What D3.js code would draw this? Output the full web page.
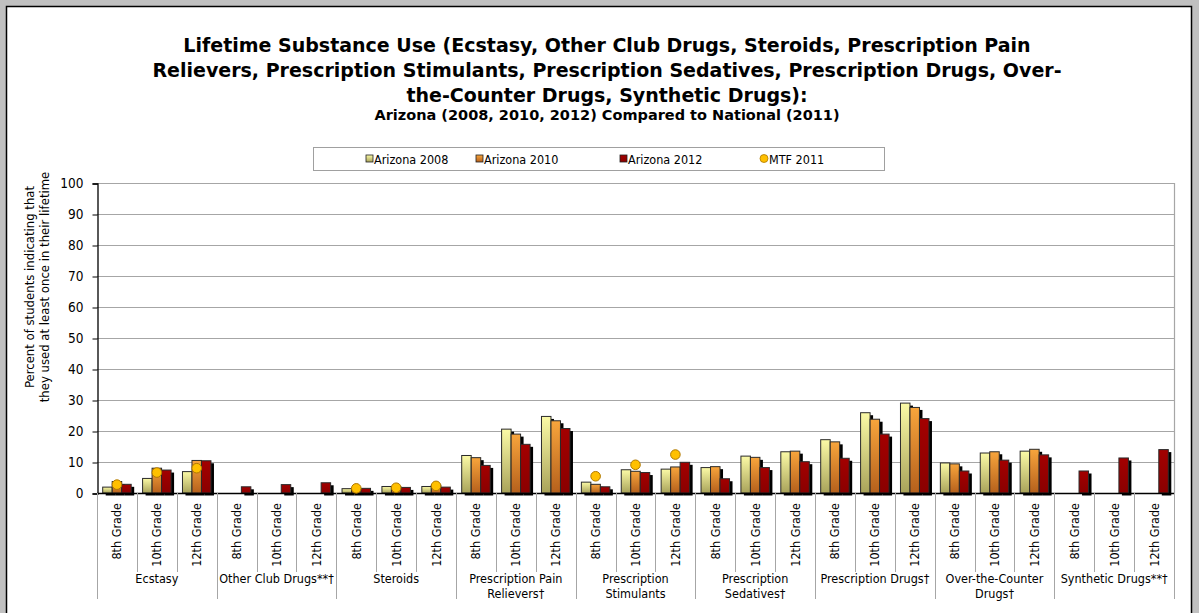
<!DOCTYPE html>
<html>
<head>
<meta charset="utf-8">
<script src="https://cdn.jsdelivr.net/npm/d3@7"></script>
<style>
  body { margin: 0; background: #c0c0c0; }
  svg { display: block; }
  text { font-family: "DejaVu Sans Condensed", "DejaVu Sans", sans-serif; font-stretch: condensed; fill: #000; }
  text.title { font-family: "DejaVu Sans", sans-serif; font-stretch: normal; font-weight: bold; }
</style>
</head>
<body>
<svg id="chart" width="1199" height="613"></svg>
<script>
// ---- data -------------------------------------------------------------
const groups = [
  "Ecstasy",
  "Other Club Drugs**†",
  "Steroids",
  "Prescription Pain\nRelievers†",
  "Prescription\nStimulants",
  "Prescription\nSedatives†",
  "Prescription Drugs†",
  "Over-the-Counter\nDrugs†",
  "Synthetic Drugs**†"
];
const grades = ["8th Grade", "10th Grade", "12th Grade"];
const seriesNames = ["Arizona 2008", "Arizona 2010", "Arizona 2012"];
const markerName = "MTF 2011";

// one value per group x grade (27 entries); null = not surveyed
const arizona2008 = [1.9, 4.7, 6.9,  null, null, null,  1.4, 2.1, 2.1,  12.1, 20.6, 24.7,
                     3.5, 7.5, 7.7,  8.2, 11.9, 13.3,  17.2, 25.9, 29.0,  9.7, 12.9, 13.5,  null, null, null];
const arizona2010 = [3.7, 8.0, 10.5,  null, null, null,  1.2, 2.0, 2.5,  11.4, 19.0, 23.3,
                     2.8, 7.0, 8.4,  8.5, 11.5, 13.5,  16.5, 23.8, 27.6,  9.4, 13.3, 14.1,  null, null, null];
const arizona2012 = [2.8, 7.4, 10.4,  2.0, 2.7, 3.3,  1.5, 1.8, 1.9,  8.9, 15.7, 20.8,
                     2.0, 6.6, 9.9,  4.6, 8.2, 10.1,  11.2, 19.0, 24.0,  7.1, 10.6, 12.3,  7.1, 11.3, 14.0];
const mtf2011     = [2.7, 6.6, 8.0,  null, null, null,  1.5, 1.7, 2.3,  null, null, null,
                     5.4, 9.1, 12.4,  null, null, null,  null, null, null,  null, null, null,  null, null, null];
const yTicks = [0, 10, 20, 30, 40, 50, 60, 70, 80, 90, 100];

const titleLines = [
  "Lifetime Substance Use (Ecstasy, Other Club Drugs, Steroids, Prescription Pain",
  "Relievers, Prescription Stimulants, Prescription Sedatives, Prescription Drugs, Over-",
  "the-Counter Drugs, Synthetic Drugs):"
];
const subtitle = "Arizona (2008, 2010, 2012) Compared to National (2011)";
const yTitleLines = ["Percent of students indicating that", "they used at least once in their lifetime"];

// ---- setup ------------------------------------------------------------
const svg = d3.select("#chart");
const W = 1199, H = 613;
const plot = { left: 97, right: 1174, top: 183, bottom: 493 };

const seriesValues = [arizona2008, arizona2010, arizona2012];
const categories = d3.range(groups.length * grades.length);

const x0 = d3.scaleBand().domain(categories).range([plot.left, plot.right]).padding(0);
const x1 = d3.scaleBand().domain(d3.range(seriesNames.length))
  .range([0, x0.bandwidth()]).paddingInner(0).paddingOuter(0.6);
const y = d3.scaleLinear().domain([0, 100]).range([plot.bottom, plot.top]);

// gradients for the bar fills
const defs = svg.append("defs");
const gradStops = [
  [["0%", "#fbfaa6"], ["100%", "#a9a35a"]],
  [["0%", "#f8a53c"], ["100%", "#b5601c"]],
  [["0%", "#a30000"], ["100%", "#8a0000"]]
];
gradStops.forEach((stops, i) => {
  const g = defs.append("linearGradient").attr("id", "g" + i)
    .attr("x1", 0).attr("y1", 0).attr("x2", 0).attr("y2", 1);
  stops.forEach(s => g.append("stop").attr("offset", s[0]).attr("stop-color", s[1]));
});

// chart panel
svg.append("rect").attr("x", 0).attr("y", 0).attr("width", W).attr("height", H).attr("fill", "#c0c0c0");
svg.append("rect").attr("x", 6.5).attr("y", 6.5).attr("width", 1185).attr("height", 640)
  .attr("fill", "#fff").attr("stroke", "#000").attr("stroke-width", 1.5);

// title
const titleG = svg.append("g").attr("text-anchor", "middle");
titleLines.forEach((t, i) => {
  titleG.append("text").attr("class", "title").attr("x", 607).attr("y", 52 + i * 25)
    .attr("font-size", 19).text(t);
});
titleG.append("text").attr("class", "title").attr("x", 607).attr("y", 120)
  .attr("font-size", 14.5).text(subtitle);

// legend
const legend = svg.append("g");
legend.append("rect").attr("x", 313.5).attr("y", 147.5).attr("width", 571).attr("height", 23)
  .attr("fill", "#fff").attr("stroke", "#a0a0a0");
const legendX = [366, 476, 620, 764];
seriesNames.forEach((name, i) => {
  legend.append("rect").attr("x", legendX[i]).attr("y", 155).attr("width", 7).attr("height", 7)
    .attr("fill", `url(#g${i})`).attr("stroke", "#222").attr("stroke-width", 0.8);
  legend.append("text").attr("x", legendX[i] + 8).attr("y", 163.5).attr("font-size", 12.5).text(name);
});
legend.append("circle").attr("cx", legendX[3]).attr("cy", 158.5).attr("r", 4)
  .attr("fill", "#ffc000").attr("stroke", "#b07800").attr("stroke-width", 0.8);
legend.append("text").attr("x", legendX[3] + 5).attr("y", 163.5).attr("font-size", 12.5).text(markerName);

// gridlines
svg.append("g").selectAll("line").data(yTicks.filter(d => d > 0)).join("line")
  .attr("x1", plot.left).attr("x2", plot.right)
  .attr("y1", d => y(d) + 0.5).attr("y2", d => y(d) + 0.5)
  .attr("stroke", "#a6a6a6").attr("stroke-width", 1.2);
svg.append("line").attr("x1", plot.right + 0.5).attr("x2", plot.right + 0.5)
  .attr("y1", plot.top).attr("y2", plot.bottom).attr("stroke", "#a6a6a6").attr("stroke-width", 1.2);

// y axis
const yAxis = svg.append("g").attr("transform", `translate(${plot.left + 0.5},0.5)`)
  .call(d3.axisLeft(y).tickValues(yTicks).tickSize(5).tickPadding(9));
yAxis.select(".domain").attr("stroke", "#000").attr("stroke-width", 1.3);
yAxis.selectAll(".tick line").attr("stroke", "#000");
yAxis.selectAll(".tick text").attr("font-size", 13.5)
  .attr("font-family", "\"DejaVu Sans Condensed\", \"DejaVu Sans\", sans-serif");

// y axis title
const yTitle = svg.append("g").attr("text-anchor", "middle");
yTitleLines.forEach((t, i) => {
  yTitle.append("text").attr("transform", `translate(${33.5 + i * 15.5},287) rotate(-90)`)
    .attr("font-size", 13).text(t);
});

// bars: each bar gets a black offset shadow drawn just before it
const barsG = svg.append("g");
categories.forEach(c => {
  seriesValues.forEach((vals, s) => {
    const v = vals[c];
    if (v == null) return;
    const bx = x0(c) + x1(s), bw = x1.bandwidth();
    barsG.append("rect").attr("x", bx + 3).attr("y", y(v) + 2.5)
      .attr("width", bw).attr("height", y(0) - y(v)).attr("fill", "#000");
    barsG.append("rect").attr("x", bx).attr("y", y(v))
      .attr("width", bw).attr("height", y(0) - y(v))
      .attr("fill", `url(#g${s})`).attr("stroke", "#2a2a2a").attr("stroke-width", 1);
  });
});

// x axis line
svg.append("line").attr("x1", plot.left).attr("x2", plot.right)
  .attr("y1", plot.bottom + 0.5).attr("y2", plot.bottom + 0.5)
  .attr("stroke", "#000").attr("stroke-width", 1.3);

// MTF markers
svg.append("g").selectAll("circle")
  .data(categories.filter(c => mtf2011[c] != null)).join("circle")
  .attr("cx", c => x0(c) + x1(1) + x1.bandwidth() / 2)
  .attr("cy", c => y(mtf2011[c]))
  .attr("r", 4.8).attr("fill", "#ffc000").attr("stroke", "#b07800").attr("stroke-width", 1);

// category axis: grade dividers and labels
const xAxisG = svg.append("g");
d3.range(categories.length + 1).forEach(i => {
  const xx = Math.round(plot.left + i * x0.step()) + 0.5;
  const isGroup = i % grades.length === 0;
  xAxisG.append("line").attr("x1", xx).attr("x2", xx)
    .attr("y1", plot.bottom).attr("y2", isGroup ? 599 : 572)
    .attr("stroke", "#a6a6a6").attr("stroke-width", 1);
});
categories.forEach(c => {
  const cx = x0(c) + x0.bandwidth() / 2;
  xAxisG.append("text").attr("transform", `translate(${cx + 4.5},503) rotate(-90)`)
    .attr("text-anchor", "end").attr("font-size", 12.5).text(grades[c % grades.length]);
});
groups.forEach((g, gi) => {
  const cx = plot.left + (gi * grades.length + grades.length / 2) * x0.step();
  g.split("\n").forEach((line, li) => {
    xAxisG.append("text").attr("x", cx).attr("y", 583 + li * 15)
      .attr("text-anchor", "middle").attr("font-size", 12.5).text(line);
  });
});
</script>
</body>
</html>
